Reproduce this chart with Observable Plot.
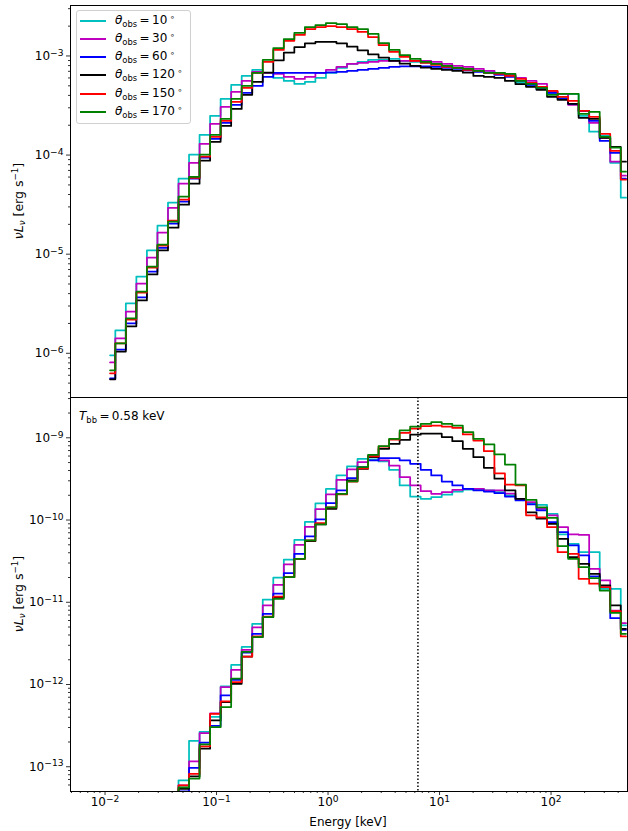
<!DOCTYPE html>
<html><head><meta charset="utf-8">
<script src="https://cdn.jsdelivr.net/npm/d3@7"></script>
<script src="https://cdn.jsdelivr.net/npm/@observablehq/plot@0.6"></script>
<style>
body{margin:0;background:#fff;font-family:"DejaVu Sans",sans-serif;}
#wrap{position:relative;width:628px;height:831px;overflow:hidden;}
#wrap svg{position:absolute;left:0;display:block;}
.ov{position:absolute;font-size:12px;color:#000;white-space:nowrap;line-height:1;}
.ov sub{font-size:70%;vertical-align:-0.3em;line-height:0;}
.ov sup{font-size:70%;vertical-align:0.5em;line-height:0;}
.legend{position:absolute;left:76px;top:10px;width:115px;height:114px;border:1px solid #d0d0d0;border-radius:3px;background:rgba(255,255,255,0.85);box-sizing:border-box;}
.lg-line{position:absolute;height:2px;width:26px;left:80px;}
</style></head><body><div id="wrap"></div>
<script>
// Energy grid (keV), bin centres
const energy = [0.01109,0.01378,0.01713,0.02129,0.02647,0.03290,0.04089,0.05082,0.06316,0.07852,
0.09759,0.1213,0.1508,0.1874,0.2329,0.2895,0.3598,0.4472,0.5558,0.6909,
0.8587,1.067,1.327,1.649,2.049,2.547,3.166,3.935,4.891,6.079,
7.555,9.389,11.67,14.51,18.03,22.41,27.86,34.62,43.03,53.49,
66.48,82.61,102.7,127.6,158.6,197.1,245.0,304.6,378.5,470.5];

const angles = [10, 30, 60, 120, 150, 170];
const colors = ["#00bfbf", "#bf00bf", "#0000ff", "#000000", "#ff0000", "#008000"];

// Top panel: nu L_nu [erg s^-1]
const topCyan = [9.53e-7,1.70e-6,3.18e-6,5.94e-6,1.09e-5,1.94e-5,3.31e-5,5.77e-5,1.01e-4,1.60e-4,2.49e-4,3.69e-4,5.11e-4,6.29e-4,7.22e-4,6.75e-4,6.00e-4,5.60e-4,5.22e-4,5.47e-4,6.00e-4,6.75e-4,7.57e-4,8.30e-4,8.71e-4,9.12e-4,9.12e-4,9.33e-4,8.91e-4,8.71e-4,8.51e-4,8.30e-4,7.93e-4,7.57e-4,7.40e-4,7.06e-4,7.06e-4,6.59e-4,6.29e-4,5.35e-4,4.99e-4,4.65e-4,4.14e-4,3.78e-4,4.14e-4,2.49e-4,1.72e-4,1.56e-4,8.36e-5,3.72e-5];
const topMagenta = [8.09e-7,1.41e-6,2.64e-6,5.06e-6,9.25e-6,1.65e-5,2.94e-5,5.14e-5,8.36e-5,1.30e-4,2.07e-4,3.06e-4,4.34e-4,5.60e-4,6.90e-4,6.75e-4,6.59e-4,6.15e-4,5.87e-4,6.15e-4,6.75e-4,7.22e-4,7.75e-4,8.30e-4,8.51e-4,8.71e-4,8.91e-4,8.91e-4,8.91e-4,8.91e-4,8.91e-4,8.71e-4,8.30e-4,7.93e-4,7.75e-4,7.40e-4,7.06e-4,6.75e-4,6.44e-4,6.00e-4,5.60e-4,5.22e-4,4.34e-4,4.14e-4,3.21e-4,2.79e-4,2.11e-4,1.49e-4,8.57e-5,6.19e-5];
const topBlue = [5.58e-7,1.09e-6,2.00e-6,3.66e-6,6.68e-6,1.16e-5,2.03e-5,3.39e-5,5.77e-5,9.40e-5,1.46e-4,2.11e-4,3.21e-4,4.24e-4,4.99e-4,6.15e-4,6.75e-4,6.75e-4,6.75e-4,6.75e-4,6.75e-4,6.83e-4,6.90e-4,7.06e-4,7.22e-4,7.40e-4,7.57e-4,7.75e-4,7.84e-4,7.84e-4,7.84e-4,7.75e-4,7.57e-4,7.40e-4,7.14e-4,6.90e-4,6.75e-4,6.44e-4,6.15e-4,5.60e-4,5.11e-4,4.65e-4,4.24e-4,3.69e-4,3.29e-4,2.79e-4,2.21e-4,1.39e-4,1.05e-4,5.77e-5];
const topBlack = [5.46e-7,1.04e-6,1.87e-6,3.41e-6,6.24e-6,1.09e-5,1.85e-5,3.16e-5,5.14e-5,8.77e-5,1.36e-4,1.97e-4,2.92e-4,4.05e-4,5.47e-4,6.79e-4,9.05e-4,1.08e-3,1.23e-3,1.34e-3,1.39e-3,1.39e-3,1.34e-3,1.24e-3,1.14e-3,1.04e-3,9.62e-4,8.91e-4,8.36e-4,7.93e-4,7.62e-4,7.40e-4,7.22e-4,7.06e-4,6.79e-4,6.29e-4,6.15e-4,6.00e-4,5.60e-4,5.19e-4,4.88e-4,4.55e-4,3.87e-4,3.61e-4,3.29e-4,2.38e-4,2.32e-4,1.49e-4,1.21e-4,8.57e-5];
const topRed = [6.28e-7,1.26e-6,2.19e-6,4.10e-6,7.33e-6,1.22e-5,2.18e-5,3.55e-5,5.90e-5,9.62e-5,1.53e-4,2.21e-4,3.44e-4,4.76e-4,6.75e-4,8.71e-4,1.15e-3,1.42e-3,1.63e-3,1.87e-3,1.96e-3,2.00e-3,1.96e-3,1.87e-3,1.75e-3,1.55e-3,1.29e-3,1.10e-3,9.77e-4,8.91e-4,8.51e-4,8.12e-4,7.75e-4,7.57e-4,7.22e-4,7.06e-4,6.75e-4,6.59e-4,6.29e-4,5.87e-4,5.35e-4,4.88e-4,4.44e-4,3.87e-4,3.52e-4,2.79e-4,2.43e-4,1.64e-4,1.10e-4,5.64e-5];
const topGreen = [6.73e-7,1.26e-6,2.25e-6,4.20e-6,7.50e-6,1.25e-5,2.13e-5,3.80e-5,6.04e-5,1.01e-4,1.60e-4,2.32e-4,3.69e-4,4.99e-4,6.75e-4,9.12e-4,1.20e-3,1.48e-3,1.71e-3,1.96e-3,2.05e-3,2.15e-3,2.10e-3,1.96e-3,1.87e-3,1.67e-3,1.35e-3,1.15e-3,1.02e-3,9.33e-4,8.71e-4,8.30e-4,7.93e-4,7.57e-4,7.40e-4,7.06e-4,6.75e-4,6.75e-4,6.59e-4,5.60e-4,5.22e-4,4.76e-4,4.05e-4,4.14e-4,4.14e-4,2.61e-4,2.73e-4,1.53e-4,1.19e-4,6.79e-5];

// Bottom panel (T_bb = 0.58 keV)
const botCyan = [3e-16,7e-16,1.6e-15,3.5e-15,8e-15,1.7e-14,3.5e-14,6.84e-14,2.06e-13,2.65e-13,4.03e-13,9.46e-13,1.73e-12,2.86e-12,5.48e-12,1.08e-11,1.99e-11,3.31e-11,5.75e-11,9.47e-11,1.59e-10,2.39e-10,3.48e-10,4.48e-10,5.56e-10,5.45e-10,5.15e-10,4.08e-10,2.63e-10,1.93e-10,1.81e-10,1.90e-10,2.03e-10,2.22e-10,2.35e-10,2.40e-10,2.29e-10,2.18e-10,1.99e-10,1.81e-10,1.60e-10,1.53e-10,1.19e-10,6.67e-11,5.14e-11,4.06e-11,4.06e-11,1.46e-11,1.46e-11,5.22e-12];
const botMagenta = [2.5e-16,6e-16,1.4e-15,3e-15,7e-15,1.5e-14,3e-14,5.94e-14,1.16e-13,2.56e-13,4.45e-13,9.29e-13,1.51e-12,2.63e-12,4.94e-12,9.14e-12,1.63e-11,2.88e-11,5.00e-11,8.28e-11,1.36e-10,2.05e-10,3.08e-10,4.12e-10,5.05e-10,6.09e-10,5.30e-10,4.60e-10,3.32e-10,2.63e-10,2.24e-10,2.08e-10,2.18e-10,2.33e-10,2.40e-10,2.40e-10,2.29e-10,2.29e-10,2.10e-10,1.81e-10,1.65e-10,1.37e-10,1.14e-10,8.18e-11,6.67e-11,6.62e-11,2.55e-11,1.84e-11,7.94e-12,5.57e-12];
const botBlue = [2e-16,5e-16,1.2e-15,2.8e-15,6e-15,1.3e-14,2.7e-14,5.02e-14,9.66e-14,1.97e-13,3.13e-13,7.36e-13,1.14e-12,2.45e-12,4.14e-12,7.24e-12,1.27e-11,2.26e-11,3.89e-11,6.31e-11,1.02e-10,1.60e-10,2.29e-10,3.23e-10,4.40e-10,5.30e-10,5.65e-10,5.65e-10,5.30e-10,4.83e-10,4.08e-10,3.48e-10,2.94e-10,2.63e-10,2.40e-10,2.29e-10,2.22e-10,2.12e-10,1.93e-10,1.73e-10,1.55e-10,1.31e-10,9.42e-11,7.11e-11,4.91e-11,3.71e-11,2.06e-11,1.53e-11,6.41e-12,4.63e-12];
const botBlack = [2e-16,5e-16,1.1e-15,2.6e-15,6e-15,1.3e-14,2.8e-14,5.40e-14,7.62e-14,1.66e-13,3.66e-13,6.10e-13,1.02e-12,2.19e-12,3.77e-12,6.59e-12,1.15e-11,2.02e-11,3.38e-11,5.53e-11,8.83e-11,1.37e-10,2.08e-10,3.03e-10,4.20e-10,5.81e-10,7.35e-10,8.45e-10,9.46e-10,1.09e-9,1.12e-9,1.12e-9,1.02e-9,9.10e-10,7.35e-10,5.81e-10,4.32e-10,3.18e-10,2.29e-10,1.81e-10,1.24e-10,1.04e-10,9.00e-11,5.92e-11,3.53e-11,2.94e-11,2.22e-11,1.60e-11,9.14e-12,4.76e-12];
const botRed = [2e-16,5e-16,1.2e-15,2.8e-15,6.5e-15,1.4e-14,3e-14,5.94e-14,8.17e-14,1.77e-13,4.39e-13,6.22e-13,1.07e-12,2.19e-12,3.84e-12,6.71e-12,1.17e-11,2.02e-11,3.38e-11,5.64e-11,9.16e-11,1.43e-10,2.05e-10,2.94e-10,4.24e-10,5.93e-10,7.83e-10,9.53e-10,1.15e-9,1.29e-9,1.39e-9,1.41e-9,1.37e-9,1.32e-9,1.10e-9,9.27e-10,6.87e-10,3.68e-10,2.70e-10,2.63e-10,1.14e-10,1.08e-10,8.18e-11,4.06e-11,3.89e-11,1.93e-11,1.68e-11,1.53e-11,7.80e-12,3.84e-12];
const botGreen = [2e-16,5e-16,1.1e-15,2.6e-15,6e-15,1.3e-14,2.8e-14,5.60e-14,7.19e-14,1.87e-13,3.03e-13,5.31e-13,1.18e-12,2.49e-12,3.77e-12,6.62e-12,1.10e-11,2.02e-11,3.38e-11,5.64e-11,8.83e-11,1.43e-10,2.08e-10,2.96e-10,4.40e-10,6.21e-10,7.91e-10,9.73e-10,1.23e-9,1.37e-9,1.48e-9,1.55e-9,1.48e-9,1.41e-9,1.17e-9,9.73e-10,8.30e-10,6.27e-10,4.73e-10,2.70e-10,1.76e-10,1.43e-10,1.06e-10,4.81e-11,3.38e-11,2.67e-11,1.96e-11,1.39e-11,7.45e-12,4.14e-12];

const feLine = 6.4; // keV, dotted marker
const xTicks = [1e-2, 1e-1, 1, 10, 100];
const yTicksTop = [1e-6, 1e-5, 1e-4, 1e-3];
const yTicksBot = [1e-13, 1e-12, 1e-11, 1e-10, 1e-9];
const xDomain = [0.0049, 485];
const yDomainTop = [3.58e-7, 3.23e-3];
const yDomainBot = [5.0e-14, 3.09e-9];

const minorOf = majors => {
  const lo = Math.log10(majors[0]) - 1, hi = Math.log10(majors[majors.length-1]) + 1;
  const out = [];
  for (let e = lo; e <= hi; e++) for (let m = 2; m <= 9; m++) out.push(m * Math.pow(10, e));
  return out;
};
const powLabel = v => "10^" + Math.round(Math.log10(v));

function seriesMarks(sets) {
  return sets.map((arr, k) => Plot.line(energy.map((e, i) => ({E: e, v: arr[i]})), {
    x: "E", y: "v", stroke: colors[k], strokeWidth: 1.75, curve: "step", clip: true
  }));
}

const common = {
  width: 628, marginLeft: 70, marginRight: 1,
  style: {fontFamily: "DejaVu Sans", fontSize: "12px", color: "#000", background: "transparent", overflow: "visible"}
};

const topPlot = Plot.plot({
  ...common, height: 400, marginTop: 5, marginBottom: 3,
  x: {type: "log", domain: xDomain, axis: null},
  y: {type: "log", domain: yDomainTop, label: null},
  marks: [
    Plot.axisY(minorOf(yTicksTop).filter(v => v > yDomainTop[0] && v < yDomainTop[1]), {tickSize: 2, tickFormat: () => "", label: null, strokeWidth: 0.8}),
    Plot.axisY(yTicksTop, {tickSize: 4, tickPadding: 3, tickFormat: powLabel, label: null, strokeWidth: 0.8}),
    ...seriesMarks([topCyan, topMagenta, topBlue, topBlack, topRed, topGreen]),
    Plot.frame({stroke: "#000", strokeWidth: 1})
  ]
});

const botPlot = Plot.plot({
  ...common, height: 437, marginTop: 3, marginBottom: 40,
  x: {type: "log", domain: xDomain, label: null},
  y: {type: "log", domain: yDomainBot, label: null},
  marks: [
    Plot.axisY(minorOf(yTicksBot).filter(v => v > yDomainBot[0] && v < yDomainBot[1]), {tickSize: 2, tickFormat: () => "", label: null, strokeWidth: 0.8}),
    Plot.axisY(yTicksBot, {tickSize: 4, tickPadding: 3, tickFormat: powLabel, label: null, strokeWidth: 0.8}),
    Plot.axisX(minorOf(xTicks).filter(v => v > xDomain[0] && v < xDomain[1]), {tickSize: 2, tickFormat: () => "", label: null, strokeWidth: 0.8}),
    Plot.axisX(xTicks, {tickSize: 4, tickPadding: 2, tickFormat: powLabel, label: null, strokeWidth: 0.8}),
    ...seriesMarks([botCyan, botMagenta, botBlue, botBlack, botRed, botGreen]),
    Plot.ruleX([feLine], {stroke: "#000", strokeWidth: 1.5, strokeDasharray: "1.5,2"}),
    Plot.frame({stroke: "#000", strokeWidth: 1})
  ]
});

// matplotlib-like superscript exponents
function fixPow(svg) {
  svg.querySelectorAll("text").forEach(t => {
    const m = /^10\^(-?\d+)$/.exec(t.textContent);
    if (m) {
      const ex = m[1].replace("-", "\u2212");
      t.textContent = "10";
      const ts = document.createElementNS("http://www.w3.org/2000/svg", "tspan");
      ts.setAttribute("dy", "-0.45em");
      ts.setAttribute("font-size", "0.76em");
      ts.textContent = ex;
      t.appendChild(ts);
    }
  });
}
fixPow(topPlot); fixPow(botPlot);

const wrap = document.getElementById("wrap");
topPlot.style.top = "0px";
botPlot.style.top = "394px";
wrap.appendChild(topPlot);
wrap.appendChild(botPlot);

function addDiv(html, css, cls = "ov") {
  const d = document.createElement("div");
  d.className = cls;
  d.innerHTML = html;
  Object.assign(d.style, css);
  wrap.appendChild(d);
  return d;
}

const yLabel = '<i>νL</i><sub><i>ν</i></sub> [erg s<sup>−1</sup>]';
addDiv(yLabel, {left: "19px", top: "201px", fontSize: "12.5px", transform: "translate(-50%,-50%) rotate(-90deg)"});
addDiv(yLabel, {left: "19px", top: "594px", fontSize: "12.5px", transform: "translate(-50%,-50%) rotate(-90deg)"});
addDiv("Energy [keV]", {left: "348px", top: "822px", transform: "translate(-50%,-50%)"});
addDiv('<i>T</i><sub>bb</sub>&#8201;=&#8201;0.58 keV', {left: "79px", top: "417px", transform: "translateY(-55%)"});

// Legend
addDiv("", {}, "legend");
const rowY = [20.7, 39, 57, 75.3, 93.5, 111.8];
angles.forEach((a, k) => {
  const ln = document.createElement("div");
  ln.className = "lg-line";
  ln.style.top = (rowY[k] - 1) + "px";
  ln.style.background = colors[k];
  wrap.appendChild(ln);
  addDiv(`<i>θ</i><sub>obs</sub>&#8201;=&#8201;${a}&#8201;<sup>∘</sup>`, {left: "115px", top: rowY[k] + "px", transform: "translateY(-55%)"});
});
</script></body></html>
